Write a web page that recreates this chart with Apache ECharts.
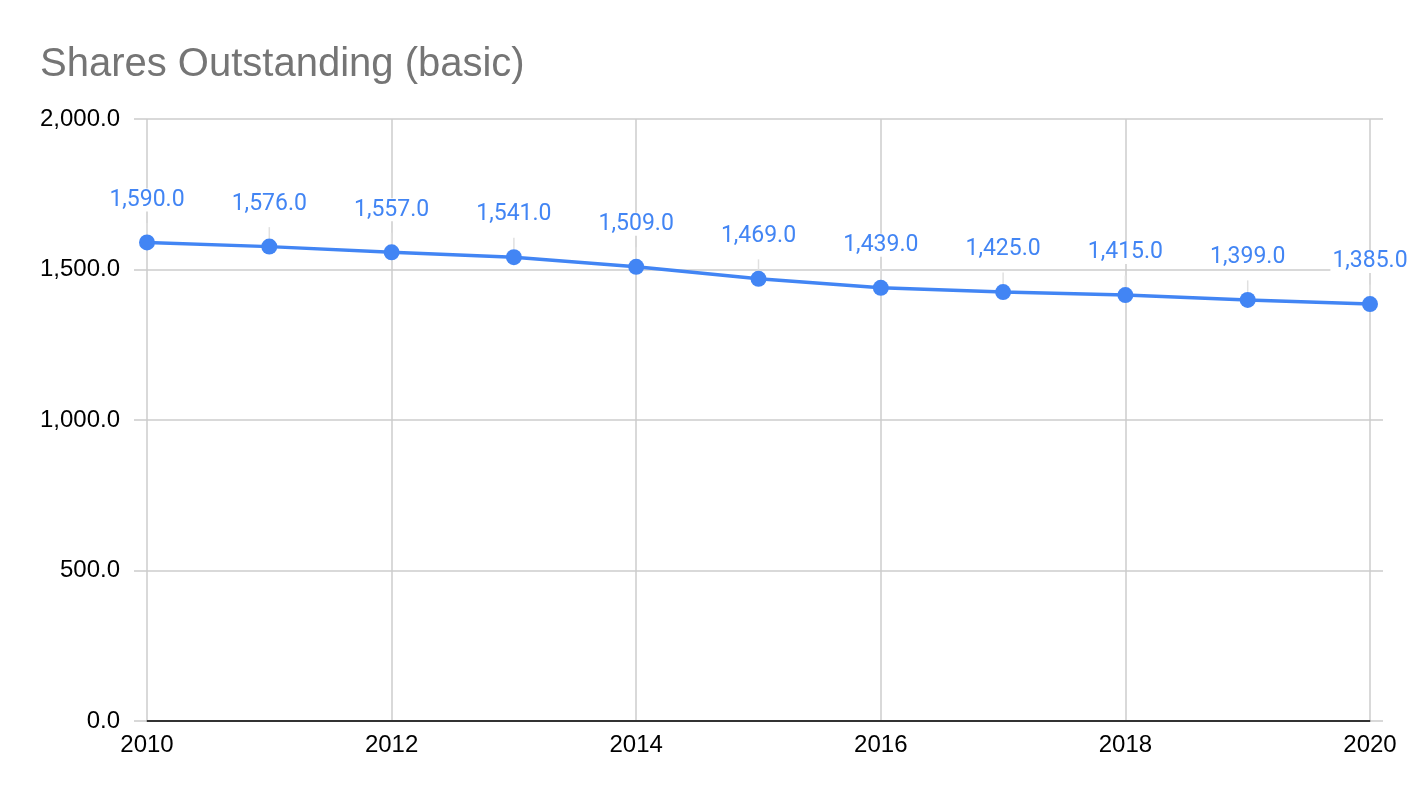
<!DOCTYPE html>
<html>
<head>
<meta charset="utf-8">
<title>Shares Outstanding (basic)</title>
<script src="https://cdn.jsdelivr.net/npm/echarts@6/dist/echarts.min.js"></script>
<style>
  html, body { margin: 0; padding: 0; background: #fff; }
  #main { width: 1424px; height: 798px; }
</style>
</head>
<body>
<div id="main"></div>
<script>
// values
const years = [2010, 2011, 2012, 2013, 2014, 2015, 2016, 2017, 2018, 2019, 2020];
const shares = [1590, 1576, 1557, 1541, 1509, 1469, 1439, 1425, 1415, 1399, 1385];
const yTicks = [0, 500, 1000, 1500, 2000];

const blue = '#4285F4';
const gridGray = '#cccccc';
const axisFont = 'Arial, "Liberation Sans", sans-serif';

function fmt(v) {
  return v.toLocaleString('en-US', {minimumFractionDigits: 1, maximumFractionDigits: 1});
}

let points = years.map((y, i) => [y, shares[i]]);

let chart = echarts.init(document.getElementById('main'));
chart.setOption({
  animation: false,
  title: {
    text: 'Shares Outstanding (basic)',
    left: 40,
    top: 45,
    padding: 0,
    textStyle: {color: '#757575', fontSize: 40, fontWeight: 'normal', fontFamily: axisFont}
  },
  grid: {left: 147, right: 54, top: 119, bottom: 77},
  xAxis: {
    type: 'value',
    min: years[0],
    max: years[years.length - 1],
    interval: 2,
    axisLine: {lineStyle: {color: '#333333', width: 2}},
    axisTick: {show: false},
    splitLine: {show: true, lineStyle: {color: gridGray, width: 1.5}},
    axisLabel: {color: '#000', fontSize: 24, fontFamily: axisFont, margin: 12, formatter: v => String(v)}
  },
  yAxis: [{
    type: 'value',
    min: yTicks[0],
    max: yTicks[yTicks.length - 1],
    interval: 500,
    axisLine: {show: false},
    axisTick: {show: true, length: 13, lineStyle: {color: gridGray, width: 1.5}},
    splitLine: {lineStyle: {color: gridGray, width: 1.5}},
    axisLabel: {color: '#000', fontSize: 24, fontFamily: axisFont, margin: 27, formatter: v => fmt(v)}
  }, {
    type: 'value',
    position: 'right',
    min: yTicks[0],
    max: yTicks[yTicks.length - 1],
    interval: 500,
    axisLine: {show: false},
    axisTick: {show: true, length: 13, lineStyle: {color: gridGray, width: 1.5}},
    splitLine: {show: false},
    axisLabel: {show: false}
  }],
  series: [{
    type: 'line',
    data: points,
    symbol: 'circle',
    symbolSize: 16,
    itemStyle: {color: blue},
    lineStyle: {color: blue, width: 3.5},
    label: {
      show: true,
      position: 'top',
      distance: 23,
      color: blue,
      fontSize: 23,
      fontFamily: 'Roboto, sans-serif',
      backgroundColor: '#fff',
      padding: [0, 2],
      formatter: p => fmt(p.value[1])
    },
    labelLine: {show: true, lineStyle: {color: '#e0e0e0', width: 1.5}}
  }]
});
</script>
</body>
</html>
